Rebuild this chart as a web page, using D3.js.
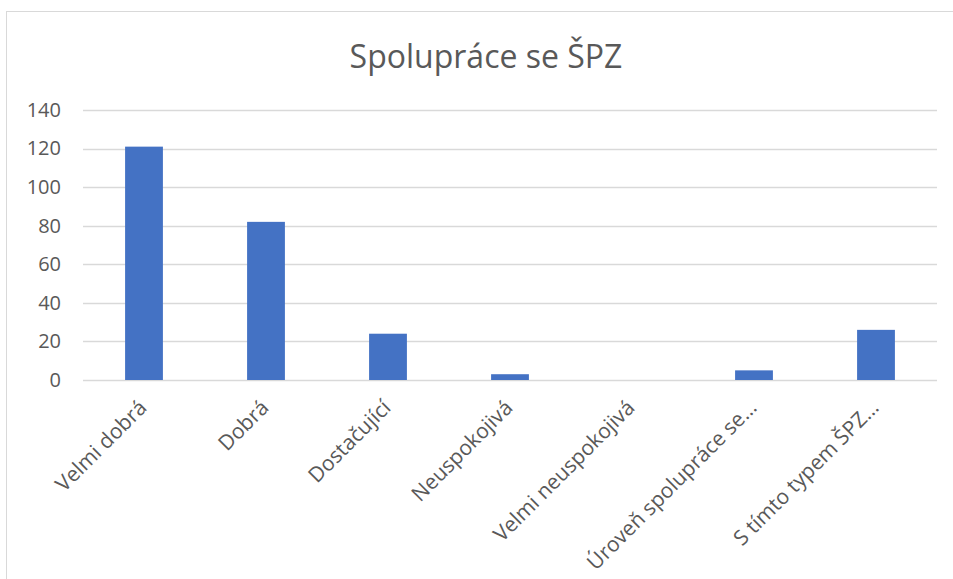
<!DOCTYPE html>
<html>
<head>
<meta charset="utf-8">
<script src="https://cdn.jsdelivr.net/npm/d3@7"></script>
<style>
  body { margin: 0; background: #fff; }
  text { font-family: "Open Sans", sans-serif; fill: #595959; }
</style>
</head>
<body>
<div id="graf"></div>
<script>
// Data
const kategorie = [
  "Velmi dobrá",
  "Dobrá",
  "Dostačující",
  "Neuspokojivá",
  "Velmi neuspokojivá",
  "Úroveň spolupráce se…",
  "S tímto typem ŠPZ…",
]
const hodnoty = [121, 82, 24, 3, 0, 5, 26]
const ticky = [0, 20, 40, 60, 80, 100, 120, 140]
const nadpis = "Spolupráce se ŠPZ"

const anchoTotal = 953
const altoTotal = 579
const margins = { left: 83, top: 110, right: 16, bottom: 199 }
const ancho = anchoTotal - margins.left - margins.right
const alto = altoTotal - margins.top - margins.bottom

const svg = d3
  .select("#graf")
  .append("svg")
  .attr("width", anchoTotal)
  .attr("height", altoTotal)

// chart frame
svg.append("rect")
  .attr("x", 6.5)
  .attr("y", 11.5)
  .attr("width", 1000)
  .attr("height", 700)
  .attr("fill", "#fff")
  .attr("stroke", "#d9d9d9")

svg.append("text")
  .attr("x", 486)
  .attr("y", 68)
  .attr("text-anchor", "middle")
  .attr("font-size", 32)
  .text(nadpis)

const g = svg
  .append("g")
  .attr("transform", `translate(${margins.left}, ${margins.top})`)

// Escaladores
const x = d3.scaleBand()
  .domain(kategorie)
  .range([0, ancho])
  .paddingInner(0.69)
  .paddingOuter(0.345)

const y = d3.scaleLinear()
  .domain([0, 140])
  .range([alto, 0])

// gridlines
g.selectAll("line.grid")
  .data(ticky)
  .join("line")
  .attr("class", "grid")
  .attr("x1", 0)
  .attr("x2", ancho)
  .attr("y1", d => Math.round(y(d)) + 0.5)
  .attr("y2", d => Math.round(y(d)) + 0.5)
  .attr("stroke", "#d9d9d9")
  .attr("stroke-width", 1.3)

// y axis labels
const yAxis = d3.axisLeft(y).tickValues(ticky).tickSize(0).tickPadding(22)
g.append("g")
  .call(yAxis)
  .call(a => a.select(".domain").remove())
  .selectAll("text")
  .attr("font-size", 20)
  .style("fill", "#595959")
  .style("font-family", "'Open Sans', sans-serif")

// bars
g.selectAll("rect.bar")
  .data(hodnoty)
  .join("rect")
  .attr("class", "bar")
  .attr("x", (d, i) => x(kategorie[i]))
  .attr("y", d => y(d))
  .attr("width", x.bandwidth())
  .attr("height", d => alto - y(d))
  .attr("fill", "#4472c4")

// x axis labels
const xAxis = d3.axisBottom(x).tickSize(0).tickPadding(0)
g.append("g")
  .attr("transform", `translate(0, ${alto})`)
  .call(xAxis)
  .call(a => a.select(".domain").remove())
  .selectAll("text")
  .attr("font-size", 21)
  .style("fill", "#595959")
  .style("font-family", "'Open Sans', sans-serif")
  .attr("text-anchor", "end")
  .attr("dy", 0)
  .attr("y", 0)
  .attr("transform", "translate(4, 29) rotate(-45)")
</script>
</body>
</html>
